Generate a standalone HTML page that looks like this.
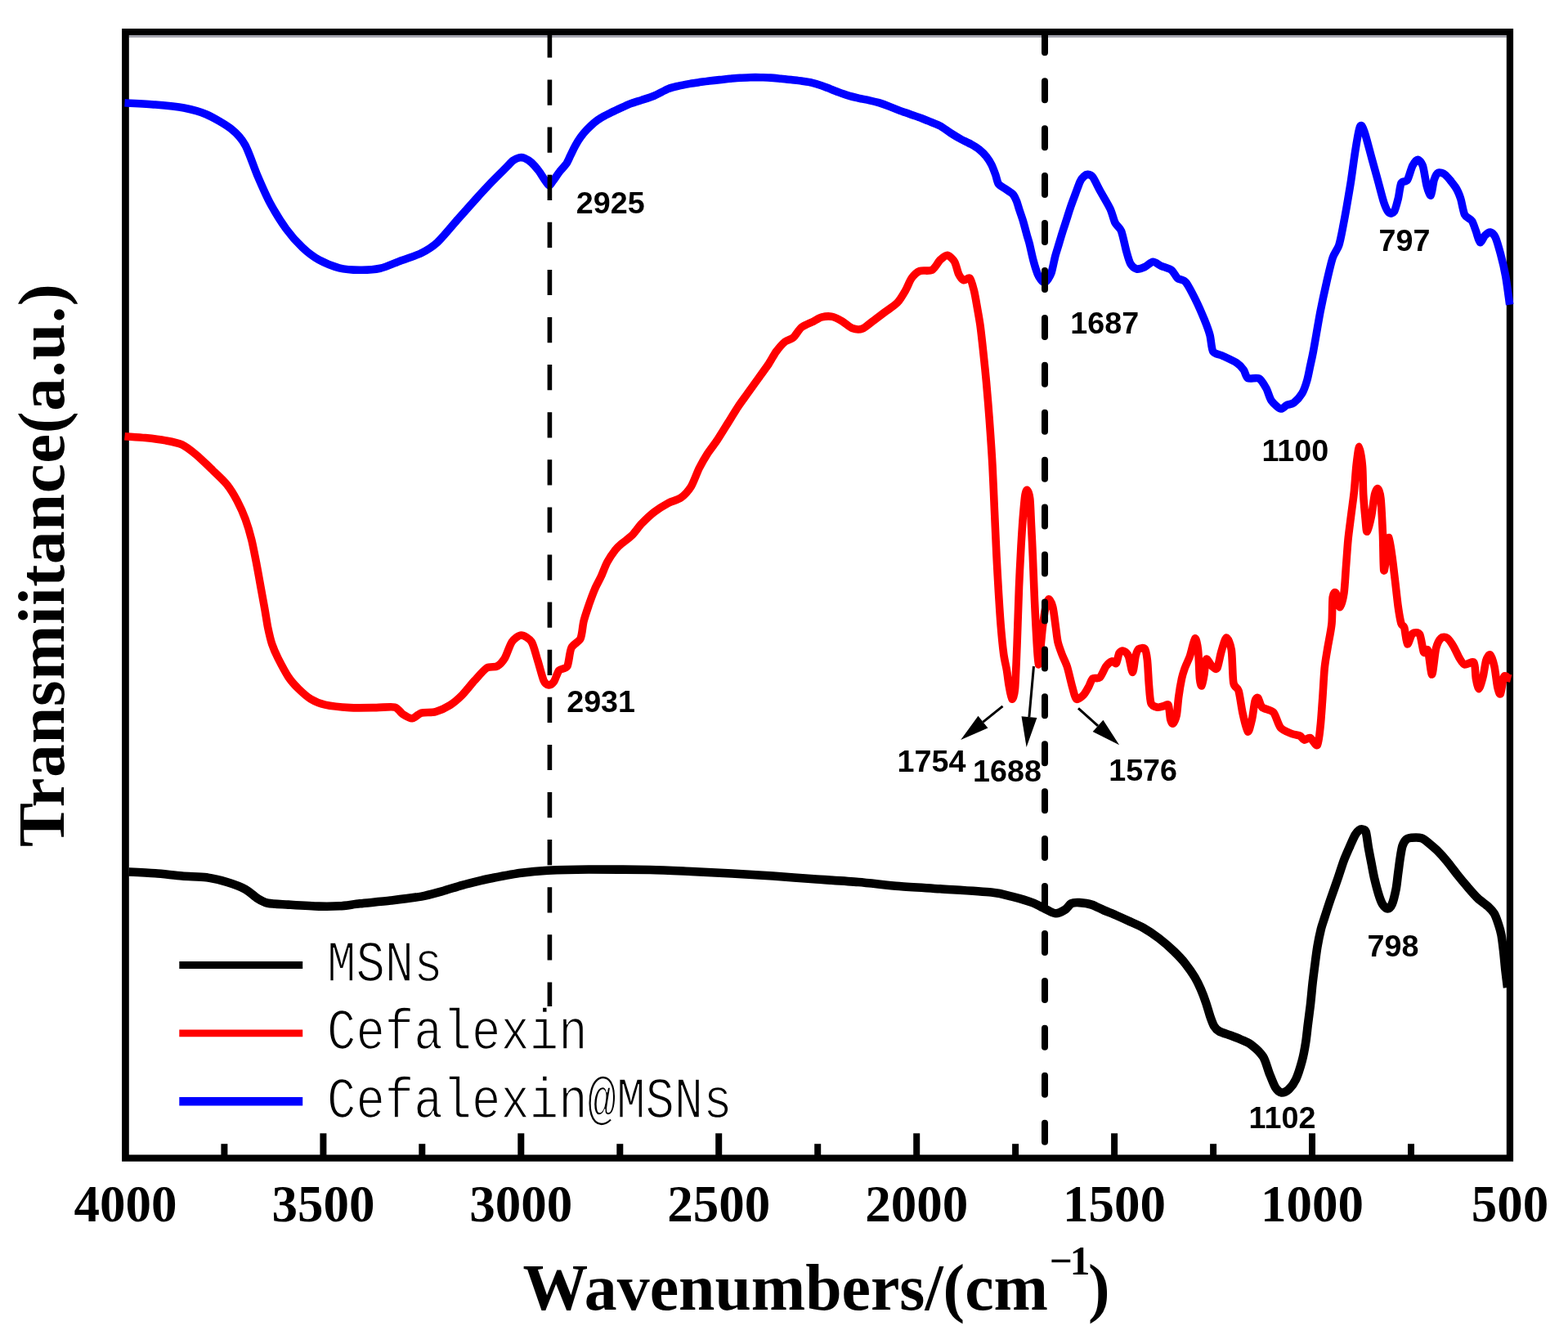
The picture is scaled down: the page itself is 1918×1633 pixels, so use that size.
<!DOCTYPE html>
<html lang="en">
<head>
<meta charset="utf-8">
<title>FTIR spectra</title>
<style>
html,body{margin:0;padding:0;background:#fff;}
body{width:1918px;height:1633px;overflow:hidden;}
svg{display:block;}
.tick{font-family:"Liberation Serif",serif;font-weight:bold;font-size:63px;text-anchor:middle;fill:#000;}
.title{font-family:"Liberation Serif",serif;font-weight:bold;font-size:81px;fill:#000;}
.sup{font-family:"Liberation Serif",serif;font-weight:bold;font-size:50px;fill:#000;}
.ann{font-family:"Liberation Sans",sans-serif;font-weight:bold;font-size:37.7px;fill:#000;}
.leg{font-family:"Liberation Mono",monospace;fill:#000;stroke:#fff;stroke-width:1.3px;}
.curve{fill:none;stroke-linejoin:round;stroke-linecap:butt;}
</style>
</head>
<body>
<svg width="1918" height="1633" viewBox="0 0 1918 1633" role="img" aria-label="FTIR spectra of MSNs, Cefalexin and Cefalexin@MSNs">
<rect x="0" y="0" width="1918" height="1633" fill="#ffffff"/>

<path class="curve" stroke="#000000" stroke-width="10.6" d="M157.5,1066.5C161.8,1066.7 181.3,1067.6 190.0,1068.3C198.7,1069.0 214.3,1070.8 222.6,1071.5C230.9,1072.2 245.3,1072.3 252.6,1073.3C259.9,1074.3 271.3,1077.1 277.6,1079.0C283.9,1080.9 295.2,1085.1 300.2,1087.8C305.2,1090.5 311.5,1096.8 315.2,1099.1C318.9,1101.4 322.7,1103.8 327.7,1104.8C332.7,1105.8 344.4,1106.1 352.7,1106.6C361.0,1107.1 381.9,1108.4 390.2,1108.6C398.5,1108.8 408.6,1108.7 415.3,1108.3C422.0,1107.9 432.0,1106.2 440.3,1105.3C448.6,1104.4 467.8,1102.8 477.8,1101.6C487.8,1100.4 507.1,1098.1 515.4,1096.6C523.7,1095.1 533.7,1092.1 540.4,1090.3C547.1,1088.5 558.7,1084.6 565.4,1082.8C572.1,1081.0 585.6,1077.7 590.5,1076.5C595.4,1075.3 596.2,1075.2 602.5,1074.0C608.8,1072.8 628.6,1069.0 637.6,1067.8C646.6,1066.6 659.1,1065.4 670.1,1064.8C681.1,1064.2 703.5,1063.6 720.2,1063.5C736.9,1063.4 778.5,1063.7 795.2,1064.0C811.9,1064.3 832.0,1065.4 845.3,1066.0C858.6,1066.6 882.0,1067.8 895.3,1068.5C908.6,1069.2 932.1,1070.6 945.4,1071.5C958.7,1072.4 981.5,1074.3 995.4,1075.3C1009.3,1076.3 1036.1,1077.8 1050.0,1079.0C1063.9,1080.2 1086.7,1082.9 1100.0,1084.0C1113.3,1085.1 1135.0,1086.3 1150.0,1087.3C1165.0,1088.3 1201.0,1090.4 1212.7,1091.6C1224.4,1092.8 1231.0,1094.9 1237.7,1096.6C1244.4,1098.3 1257.1,1101.9 1262.8,1104.1C1268.5,1106.3 1276.5,1111.0 1280.3,1112.8C1284.1,1114.6 1288.5,1117.3 1291.5,1117.3C1294.5,1117.3 1300.3,1114.4 1302.8,1112.8C1305.3,1111.2 1308.0,1106.5 1310.3,1105.3C1312.6,1104.1 1317.0,1103.9 1320.3,1104.1C1323.6,1104.3 1331.3,1105.3 1335.3,1106.6C1339.3,1107.9 1346.4,1111.8 1350.4,1113.5C1354.4,1115.2 1361.1,1117.8 1365.0,1119.5C1368.9,1121.2 1375.5,1124.2 1380.0,1126.3C1384.5,1128.4 1393.8,1132.3 1398.8,1135.1C1403.8,1137.9 1412.5,1143.8 1417.5,1147.6C1422.5,1151.4 1432.0,1159.7 1436.3,1163.9C1440.6,1168.1 1446.8,1174.7 1450.1,1178.9C1453.4,1183.1 1458.9,1190.9 1461.4,1195.1C1463.9,1199.3 1467.1,1206.0 1468.9,1210.2C1470.7,1214.4 1473.6,1222.1 1475.1,1226.4C1476.6,1230.7 1478.8,1238.9 1480.1,1242.7C1481.4,1246.5 1483.6,1252.7 1485.1,1255.2C1486.6,1257.7 1488.7,1260.0 1491.4,1261.5C1494.1,1263.0 1501.7,1265.2 1505.2,1266.5C1508.7,1267.8 1514.4,1270.0 1517.7,1271.5C1521.0,1273.0 1526.5,1274.9 1530.2,1277.7C1533.9,1280.5 1542.1,1288.0 1545.1,1292.7C1548.1,1297.4 1550.6,1307.7 1552.6,1312.7C1554.6,1317.7 1558.1,1327.0 1560.1,1330.2C1562.1,1333.4 1565.4,1336.2 1567.6,1336.5C1569.8,1336.8 1574.1,1334.9 1576.4,1332.7C1578.7,1330.5 1583.0,1324.9 1585.2,1320.2C1587.4,1315.5 1591.1,1303.7 1592.7,1297.7C1594.3,1291.7 1596.3,1280.7 1597.2,1275.0C1598.1,1269.3 1598.9,1261.2 1599.6,1255.2C1600.3,1249.2 1602.0,1236.9 1602.8,1230.2C1603.6,1223.5 1604.6,1211.9 1605.3,1205.2C1606.0,1198.5 1607.6,1186.4 1608.4,1180.1C1609.2,1173.8 1610.5,1163.4 1611.5,1157.6C1612.5,1151.8 1614.8,1140.9 1615.9,1136.3C1617.0,1131.7 1618.5,1128.0 1620.0,1123.2C1621.5,1118.4 1625.3,1106.5 1627.5,1100.1C1629.7,1093.7 1634.1,1081.4 1636.3,1075.1C1638.5,1068.8 1641.8,1057.9 1643.8,1052.6C1645.8,1047.3 1649.5,1039.1 1651.3,1035.0C1653.1,1030.9 1656.0,1024.1 1657.5,1021.5C1659.0,1018.9 1661.4,1016.5 1662.6,1015.6C1663.8,1014.7 1665.5,1014.2 1666.6,1014.5C1667.7,1014.8 1669.7,1014.6 1670.7,1017.5C1671.7,1020.4 1672.9,1031.1 1673.8,1036.3C1674.7,1041.5 1676.6,1051.1 1677.6,1056.3C1678.6,1061.5 1680.1,1070.1 1681.3,1075.1C1682.5,1080.1 1685.0,1089.7 1686.3,1093.9C1687.6,1098.1 1689.8,1104.1 1691.3,1106.4C1692.8,1108.7 1695.8,1111.4 1697.3,1111.4C1698.8,1111.4 1701.2,1109.6 1702.6,1106.4C1704.0,1103.2 1706.6,1092.6 1707.6,1087.6C1708.6,1082.6 1709.4,1073.8 1710.1,1068.8C1710.8,1063.8 1711.9,1054.6 1712.6,1050.1C1713.3,1045.6 1714.4,1038.1 1715.4,1035.0C1716.4,1031.9 1718.6,1028.3 1720.1,1026.9C1721.6,1025.5 1723.9,1025.0 1726.4,1024.8C1728.9,1024.6 1736.1,1024.4 1738.9,1025.3C1741.7,1026.2 1745.2,1029.3 1747.7,1031.3C1750.2,1033.3 1754.7,1037.1 1757.7,1040.1C1760.7,1043.1 1766.9,1049.8 1770.2,1053.8C1773.5,1057.8 1779.4,1065.9 1782.7,1070.1C1786.0,1074.3 1791.9,1081.3 1795.2,1085.1C1798.5,1088.9 1804.4,1095.7 1807.7,1098.9C1811.0,1102.1 1817.6,1106.4 1820.3,1108.9C1823.0,1111.4 1826.1,1114.8 1827.8,1117.6C1829.5,1120.4 1831.6,1126.7 1832.8,1130.2C1834.0,1133.7 1835.7,1139.6 1836.5,1143.9C1837.3,1148.2 1838.3,1156.9 1839.0,1162.7C1839.7,1168.5 1840.8,1181.7 1841.5,1187.7C1842.2,1193.7 1843.7,1205.3 1844.0,1208.0"/>
<rect x="157.8" y="43" width="1685" height="2.9" fill="#a2a2ac"/>
<path fill="#000" fill-rule="evenodd" d="M149.1,35H1851.1V1420.8H149.1ZM157.8,43V1412.5H1842.8V43Z"/>
<g stroke="#000" stroke-width="8">
<line x1="395.4" y1="1386.3" x2="395.4" y2="1416.65"/>
<line x1="637.3" y1="1386.3" x2="637.3" y2="1416.65"/>
<line x1="879.2" y1="1386.3" x2="879.2" y2="1416.65"/>
<line x1="1121.2" y1="1386.3" x2="1121.2" y2="1416.65"/>
<line x1="1363.1" y1="1386.3" x2="1363.1" y2="1416.65"/>
<line x1="1605.0" y1="1386.3" x2="1605.0" y2="1416.65"/>
<line x1="274.4" y1="1399.2" x2="274.4" y2="1416.65"/>
<line x1="516.3" y1="1399.2" x2="516.3" y2="1416.65"/>
<line x1="758.3" y1="1399.2" x2="758.3" y2="1416.65"/>
<line x1="1000.2" y1="1399.2" x2="1000.2" y2="1416.65"/>
<line x1="1242.1" y1="1399.2" x2="1242.1" y2="1416.65"/>
<line x1="1484.1" y1="1399.2" x2="1484.1" y2="1416.65"/>
<line x1="1726.0" y1="1399.2" x2="1726.0" y2="1416.65"/>
</g>
<path class="curve" stroke="#ff0000" stroke-width="9.6" d="M152.5,533.7C155.8,534.0 170.8,534.9 177.5,535.6C184.2,536.3 196.6,537.8 202.6,538.9C208.6,540.0 217.6,541.6 222.6,543.9C227.6,546.2 235.1,552.2 240.1,556.4C245.1,560.6 255.1,570.3 260.1,575.1C265.1,579.9 273.6,587.7 277.6,592.7C281.6,597.7 287.2,607.0 290.2,612.7C293.2,618.4 297.9,628.9 300.2,635.2C302.5,641.5 305.9,652.9 307.7,660.2C309.5,667.5 312.4,682.6 313.9,690.3C315.4,698.0 317.6,710.5 318.9,717.8C320.2,725.1 322.7,738.6 323.9,745.3C325.1,752.0 326.5,762.1 327.7,767.8C328.9,773.5 331.0,782.9 332.7,787.9C334.4,792.9 337.5,800.1 340.2,805.4C342.9,810.7 349.4,823.0 352.7,828.0C356.0,833.0 361.5,839.0 365.2,842.6C368.9,846.2 375.9,852.5 380.2,855.1C384.5,857.7 391.5,860.7 397.8,862.1C404.1,863.5 419.5,865.1 427.8,865.6C436.1,866.1 453.0,865.7 460.3,865.6C467.6,865.5 478.5,864.0 482.8,865.1C487.1,866.2 490.1,872.0 492.9,873.8C495.7,875.6 501.1,879.0 504.1,878.8C507.1,878.6 511.6,873.2 515.4,872.1C519.2,871.0 528.2,871.9 532.9,870.6C537.6,869.3 546.1,865.3 550.4,862.6C554.7,859.9 561.4,854.1 565.4,850.1C569.4,846.1 576.4,837.0 580.4,832.6C584.4,828.2 591.8,819.3 595.5,817.0C599.2,814.7 605.1,816.6 608.0,815.0C610.9,813.4 615.1,809.0 617.5,805.0C619.9,801.0 623.6,788.7 626.3,785.0C629.0,781.3 634.4,777.0 637.6,777.0C640.8,777.0 647.4,780.9 650.1,785.0C652.8,789.1 655.6,801.2 657.6,807.5C659.6,813.8 663.3,828.5 665.1,832.6C666.9,836.7 669.7,837.8 671.4,838.0C673.1,838.2 675.9,836.2 677.6,833.8C679.3,831.4 681.7,822.5 683.9,820.0C686.1,817.5 691.9,818.7 693.9,815.0C695.9,811.3 696.7,797.0 698.9,792.5C701.1,788.0 708.1,785.3 710.1,781.0C712.1,776.7 712.6,765.7 713.9,760.3C715.2,754.9 718.4,745.6 720.2,740.3C722.0,735.0 725.7,725.0 727.7,720.3C729.7,715.6 733.2,709.6 735.2,705.3C737.2,701.0 740.4,692.1 742.7,687.8C745.0,683.5 750.4,675.7 752.7,672.7C755.0,669.7 757.5,667.5 760.2,665.2C762.9,662.9 769.4,658.5 772.7,655.2C776.0,651.9 781.5,644.0 785.2,640.2C788.9,636.4 795.9,629.7 800.2,626.4C804.5,623.1 813.4,617.5 817.7,615.2C822.0,612.9 829.1,611.6 832.8,608.9C836.5,606.2 842.3,600.0 845.3,595.2C848.3,590.4 852.6,577.9 855.3,572.6C858.0,567.3 862.3,559.8 865.3,555.1C868.3,550.4 874.5,542.6 877.8,537.6C881.1,532.6 887.0,522.9 890.3,517.6C893.6,512.3 899.5,502.6 902.8,497.6C906.1,492.6 912.0,484.8 915.3,480.1C918.6,475.4 924.6,467.2 927.9,462.5C931.2,457.8 937.5,449.3 940.4,445.0C943.3,440.7 946.8,433.6 949.5,430.0C952.2,426.4 957.6,420.2 960.4,417.9C963.2,415.6 967.7,415.2 970.4,412.9C973.1,410.6 977.1,403.1 980.4,400.4C983.7,397.7 992.1,394.6 995.4,392.9C998.7,391.2 1002.4,388.6 1005.4,387.9C1008.4,387.2 1014.7,386.7 1018.0,387.4C1021.3,388.1 1026.7,391.0 1030.0,392.9C1033.3,394.8 1039.2,400.4 1042.5,401.6C1045.8,402.8 1051.7,403.3 1055.0,402.1C1058.3,400.9 1063.9,395.6 1067.6,392.9C1071.3,390.2 1078.6,384.6 1082.6,381.6C1086.6,378.6 1094.3,373.8 1097.6,370.3C1100.9,366.8 1105.3,359.3 1107.6,355.3C1109.9,351.3 1112.8,343.5 1115.1,340.3C1117.4,337.1 1121.8,332.8 1125.1,331.5C1128.4,330.2 1136.8,332.1 1140.1,330.3C1143.4,328.5 1147.7,320.2 1150.2,317.8C1152.7,315.4 1156.6,312.0 1158.9,312.3C1161.2,312.6 1165.9,317.2 1167.7,320.3C1169.5,323.4 1171.2,332.3 1172.7,335.3C1174.2,338.3 1177.1,342.1 1178.9,342.8C1180.7,343.5 1184.7,338.6 1186.4,340.3C1188.1,342.0 1190.2,350.6 1191.4,355.3C1192.6,360.0 1194.2,369.6 1195.2,375.3C1196.2,381.0 1198.0,390.6 1199.0,397.9C1200.0,405.2 1201.7,420.7 1202.7,430.0C1203.7,439.3 1205.5,456.5 1206.5,467.5C1207.5,478.5 1209.2,498.9 1210.2,512.6C1211.2,526.3 1213.2,555.1 1214.0,570.1C1214.8,585.1 1215.8,610.5 1216.5,625.2C1217.2,639.9 1218.3,667.0 1219.0,680.3C1219.7,693.6 1220.8,714.3 1221.5,725.3C1222.2,736.3 1223.2,752.8 1224.0,762.8C1224.8,772.8 1226.7,792.4 1227.7,800.0C1228.7,807.6 1230.7,815.0 1231.5,820.0C1232.3,825.0 1233.2,832.9 1234.0,837.6C1234.8,842.3 1236.7,854.4 1237.7,855.1C1238.7,855.8 1240.7,851.3 1241.5,842.6C1242.3,833.9 1243.3,806.6 1244.0,790.0C1244.7,773.4 1245.8,734.1 1246.5,717.8C1247.2,701.5 1248.3,679.4 1249.0,667.7C1249.7,656.0 1250.8,638.5 1251.5,630.2C1252.2,621.9 1253.3,609.3 1254.0,605.2C1254.7,601.1 1255.7,599.0 1256.5,599.7C1257.3,600.4 1259.1,604.5 1259.8,610.2C1260.5,615.9 1261.0,633.4 1261.5,642.7C1262.0,652.0 1262.9,670.3 1263.3,680.3C1263.7,690.3 1264.4,707.8 1264.8,717.8C1265.2,727.8 1266.0,746.0 1266.5,755.3C1267.0,764.6 1267.8,780.2 1268.3,787.9C1268.8,795.6 1269.7,812.2 1270.3,812.9C1270.9,813.6 1272.1,798.9 1272.8,792.9C1273.5,786.9 1274.5,774.5 1275.3,767.8C1276.1,761.1 1278.0,747.5 1279.0,742.8C1280.0,738.1 1281.6,732.8 1282.8,732.8C1284.0,732.8 1286.6,738.1 1287.8,742.8C1289.0,747.5 1290.7,762.1 1291.5,767.8C1292.3,773.5 1293.0,781.1 1294.0,785.4C1295.0,789.7 1297.5,796.4 1299.0,800.4C1300.5,804.4 1303.6,810.1 1305.3,815.4C1307.0,820.7 1310.1,834.8 1311.6,840.1C1313.1,845.4 1314.8,853.8 1316.6,855.1C1318.4,856.4 1323.3,852.1 1325.3,850.1C1327.3,848.1 1330.1,842.8 1331.6,840.1C1333.1,837.4 1334.8,831.5 1336.6,830.0C1338.4,828.5 1343.1,830.8 1345.3,828.8C1347.5,826.8 1350.9,817.7 1352.9,815.0C1354.9,812.3 1358.7,809.3 1360.4,808.8C1362.1,808.3 1364.2,812.6 1365.4,811.3C1366.6,810.0 1367.9,800.8 1369.1,798.8C1370.3,796.8 1372.6,795.8 1374.1,796.3C1375.6,796.8 1378.9,799.0 1380.4,802.5C1381.9,806.0 1384.2,822.5 1385.4,822.5C1386.6,822.5 1388.1,806.3 1389.1,802.5C1390.1,798.7 1391.4,795.0 1392.9,793.8C1394.4,792.6 1399.0,792.0 1400.4,793.8C1401.8,795.6 1402.7,801.7 1403.4,807.5C1404.1,813.3 1404.8,830.6 1405.4,837.6C1406.0,844.6 1406.6,856.4 1407.9,860.1C1409.2,863.8 1413.4,864.6 1415.4,865.1C1417.4,865.6 1421.1,864.1 1422.9,863.8C1424.7,863.5 1428.0,860.4 1429.2,862.6C1430.4,864.8 1430.9,877.1 1431.7,880.1C1432.5,883.1 1433.9,885.8 1434.9,885.1C1435.9,884.4 1438.3,879.4 1439.2,875.1C1440.1,870.8 1440.9,858.6 1441.7,852.6C1442.5,846.6 1444.5,834.7 1445.5,830.0C1446.5,825.3 1447.9,821.2 1449.2,817.5C1450.5,813.8 1453.8,807.4 1455.5,802.5C1457.2,797.6 1460.4,782.0 1461.7,781.0C1463.0,780.0 1464.7,788.5 1465.5,795.0C1466.3,801.5 1466.9,824.2 1467.5,830.0C1468.1,835.8 1469.3,839.5 1470.0,838.8C1470.7,838.1 1472.3,829.3 1473.0,825.0C1473.7,820.7 1474.2,807.6 1475.5,806.3C1476.8,805.0 1480.8,813.5 1482.6,815.0C1484.4,816.5 1487.3,819.8 1488.8,817.5C1490.3,815.2 1492.3,802.5 1493.8,797.5C1495.3,792.5 1498.4,780.3 1500.1,780.0C1501.8,779.7 1505.1,787.7 1506.3,795.0C1507.5,802.3 1507.6,828.4 1508.8,835.1C1510.0,841.8 1513.6,840.1 1515.1,845.1C1516.6,850.1 1518.6,865.9 1520.1,872.6C1521.6,879.3 1524.8,894.1 1526.3,895.1C1527.8,896.1 1530.2,885.1 1531.4,880.1C1532.6,875.1 1534.1,861.1 1535.1,857.6C1536.1,854.1 1537.7,852.8 1538.9,853.8C1540.1,854.8 1541.4,862.8 1543.9,865.1C1546.4,867.4 1554.6,868.0 1557.6,871.3C1560.6,874.6 1563.4,886.6 1566.4,890.1C1569.4,893.6 1577.0,896.3 1580.2,897.6C1583.4,898.9 1588.2,899.1 1590.2,900.1C1592.2,901.1 1593.5,904.8 1595.2,905.1C1596.9,905.4 1600.5,901.8 1602.7,902.6C1604.9,903.4 1609.7,913.4 1611.4,911.4C1613.1,909.4 1614.4,895.1 1615.2,887.6C1616.0,880.1 1617.0,864.4 1617.7,855.1C1618.4,845.8 1619.4,825.8 1620.2,817.5C1621.0,809.2 1622.7,800.2 1623.9,792.9C1625.1,785.6 1628.2,771.1 1629.0,762.8C1629.8,754.5 1629.5,735.3 1630.2,730.3C1630.9,725.3 1632.8,723.6 1634.0,725.3C1635.2,727.0 1637.7,742.8 1639.0,742.8C1640.3,742.8 1643.0,732.0 1644.0,725.3C1645.0,718.6 1645.8,701.5 1646.5,692.8C1647.2,684.1 1648.2,668.5 1649.0,660.2C1649.8,651.9 1651.7,638.2 1652.7,630.2C1653.7,622.2 1655.7,608.2 1656.5,600.2C1657.3,592.2 1658.2,577.3 1659.0,570.1C1659.8,562.9 1661.7,546.4 1662.7,546.4C1663.7,546.4 1665.8,562.3 1666.5,570.1C1667.2,577.9 1667.2,596.5 1667.7,605.2C1668.2,613.9 1669.6,629.2 1670.2,635.2C1670.8,641.2 1671.2,650.9 1672.2,650.2C1673.2,649.5 1676.5,636.2 1677.7,630.2C1678.9,624.2 1680.5,609.5 1681.5,605.2C1682.5,600.9 1684.3,597.0 1685.3,597.7C1686.3,598.4 1688.2,602.5 1689.0,610.2C1689.8,617.9 1691.0,643.5 1691.5,655.2C1692.0,666.9 1692.1,695.1 1692.8,697.8C1693.5,700.5 1695.7,680.5 1696.5,675.2C1697.3,669.9 1698.2,657.0 1699.0,657.7C1699.8,658.4 1701.8,673.3 1702.8,680.3C1703.8,687.3 1705.5,702.0 1706.5,710.3C1707.5,718.6 1709.3,735.8 1710.3,742.8C1711.3,749.8 1713.0,759.5 1714.0,762.8C1715.0,766.1 1716.8,764.5 1717.8,767.8C1718.8,771.1 1720.2,786.9 1721.5,787.9C1722.8,788.9 1725.8,776.6 1727.8,775.0C1729.8,773.4 1734.8,772.9 1736.6,776.0C1738.4,779.1 1740.3,795.3 1741.6,797.9C1742.9,800.5 1745.3,791.8 1746.6,795.4C1747.9,799.0 1750.3,825.3 1751.6,825.0C1752.9,824.7 1755.1,798.8 1756.6,792.9C1758.1,787.0 1761.0,782.1 1762.8,780.4C1764.6,778.7 1768.3,779.1 1770.3,780.4C1772.3,781.7 1775.8,787.1 1777.8,790.4C1779.8,793.7 1783.6,802.4 1785.4,805.4C1787.2,808.4 1789.3,812.2 1791.6,812.9C1793.9,813.6 1801.1,808.1 1802.9,810.4C1804.7,812.7 1804.6,825.7 1805.4,830.0C1806.2,834.3 1807.9,842.9 1809.1,842.6C1810.3,842.3 1812.9,832.2 1814.1,827.5C1815.3,822.8 1816.7,811.0 1817.9,807.5C1819.1,804.0 1821.6,800.0 1822.9,801.0C1824.2,802.0 1826.7,809.8 1827.9,815.0C1829.1,820.2 1830.7,835.6 1831.7,840.1C1832.7,844.6 1834.4,850.3 1835.4,848.8C1836.4,847.3 1838.3,831.9 1839.2,829.0C1840.1,826.1 1841.2,826.9 1842.0,827.0C1842.8,827.1 1844.2,829.1 1845.0,829.5C1845.8,829.9 1847.8,829.9 1848.2,830.0"/>
<path class="curve" stroke="#0000ff" stroke-width="9.6" d="M152.5,125.8C157.5,126.1 180.3,127.2 190.0,128.0C199.7,128.8 216.7,130.4 225.0,132.0C233.3,133.6 244.9,136.6 252.6,140.0C260.3,143.4 276.3,152.6 282.6,157.6C288.9,162.6 295.7,169.9 300.0,177.6C304.3,185.3 311.0,205.7 315.0,215.0C319.0,224.3 325.3,239.0 330.0,247.7C334.7,256.4 344.7,272.7 350.0,280.0C355.3,287.3 364.7,297.8 370.0,302.8C375.3,307.8 384.0,314.5 390.0,317.8C396.0,321.1 408.3,326.1 415.0,327.8C421.7,329.5 433.3,330.2 440.0,330.3C446.7,330.4 458.3,329.8 465.0,328.3C471.7,326.8 483.3,321.5 490.0,319.0C496.7,316.5 509.0,312.8 515.0,309.8C521.0,306.8 529.0,302.0 535.0,296.5C541.0,291.0 555.0,273.9 560.0,268.3C565.0,262.7 569.2,257.9 572.5,254.2C575.8,250.5 581.7,243.9 585.0,240.2C588.3,236.5 594.2,230.2 597.5,226.7C600.8,223.2 607.1,216.9 610.1,213.9C613.1,210.9 617.8,206.2 620.1,203.9C622.4,201.6 625.6,197.9 627.6,196.4C629.6,194.9 633.3,193.3 635.1,192.9C636.9,192.5 639.4,192.6 641.4,193.4C643.4,194.2 647.8,196.8 650.1,198.9C652.4,201.0 656.7,206.1 658.9,208.9C661.1,211.7 664.7,217.8 666.4,220.2C668.1,222.6 670.5,226.8 671.8,227.0C673.1,227.2 674.6,223.8 676.4,221.4C678.2,219.0 683.0,211.9 685.2,209.1C687.4,206.3 691.0,202.9 692.7,200.4C694.4,197.9 696.2,193.4 697.7,190.4C699.2,187.4 702.2,180.9 703.9,177.9C705.6,174.9 708.4,170.3 710.2,167.8C712.0,165.3 715.5,161.1 717.7,158.8C719.9,156.5 724.2,152.3 726.5,150.3C728.8,148.3 732.4,145.8 735.2,144.1C738.0,142.4 744.4,139.3 747.7,137.6C751.0,135.9 757.0,133.1 760.3,131.6C763.6,130.1 769.5,127.5 772.8,126.3C776.1,125.1 781.7,123.5 785.3,122.3C788.9,121.1 795.7,119.0 800.0,117.2C804.3,115.4 813.5,110.2 817.5,108.6C821.5,107.0 826.8,105.9 830.1,105.1C833.4,104.3 839.3,103.2 842.6,102.6C845.9,102.0 851.8,101.2 855.1,100.7C858.4,100.2 864.3,99.3 867.6,98.9C870.9,98.5 876.8,97.9 880.1,97.6C883.4,97.3 889.3,96.6 892.6,96.3C895.9,96.0 901.9,95.4 905.2,95.2C908.5,95.0 914.4,94.8 917.7,94.7C921.0,94.6 926.9,94.6 930.2,94.7C933.5,94.8 939.4,94.9 942.7,95.1C946.0,95.3 951.9,95.9 955.2,96.2C958.5,96.5 964.4,97.2 967.7,97.6C971.0,98.0 977.0,98.6 980.3,99.1C983.6,99.6 989.5,100.3 992.8,101.1C996.1,101.9 1002.4,103.9 1005.0,104.8C1007.6,105.7 1009.8,106.6 1012.5,107.6C1015.2,108.6 1021.7,111.4 1025.0,112.6C1028.3,113.8 1034.2,115.9 1037.5,116.9C1040.8,117.9 1046.8,119.3 1050.1,120.1C1053.4,120.9 1059.3,121.9 1062.6,122.6C1065.9,123.3 1071.8,124.7 1075.1,125.7C1078.4,126.7 1084.3,128.8 1087.6,130.1C1090.9,131.4 1096.8,133.8 1100.1,135.1C1103.4,136.4 1109.3,138.3 1112.6,139.5C1115.9,140.7 1121.9,142.6 1125.2,143.9C1128.5,145.2 1134.4,147.5 1137.7,148.9C1141.0,150.3 1146.9,152.3 1150.2,154.1C1153.5,155.9 1159.4,160.5 1162.7,162.6C1166.0,164.7 1171.9,168.3 1175.2,170.1C1178.5,171.9 1184.7,174.7 1187.7,176.4C1190.7,178.1 1195.2,180.7 1197.7,182.7C1200.2,184.7 1204.5,188.9 1206.5,191.4C1208.5,193.9 1211.3,198.4 1212.8,201.4C1214.3,204.4 1216.6,210.7 1217.8,213.9C1219.0,217.1 1219.8,222.9 1221.5,225.2C1223.2,227.5 1228.3,229.9 1230.2,231.2C1232.1,232.5 1234.7,234.2 1236.0,235.2C1237.3,236.2 1238.8,237.2 1239.8,238.6C1240.8,240.0 1242.5,243.5 1243.5,246.0C1244.5,248.5 1245.9,253.8 1247.0,257.1C1248.1,260.4 1250.4,266.7 1251.6,270.8C1252.8,274.9 1255.2,284.0 1256.2,287.7C1257.2,291.4 1258.3,294.3 1259.3,298.4C1260.3,302.5 1262.6,313.4 1263.9,318.3C1265.2,323.2 1267.9,331.9 1269.2,335.1C1270.5,338.3 1272.4,341.1 1273.5,342.5C1274.6,343.9 1276.6,345.4 1277.7,345.3C1278.8,345.2 1280.9,343.1 1282.0,341.5C1283.1,339.9 1284.9,337.3 1286.1,333.6C1287.3,329.9 1289.5,318.4 1290.7,313.7C1291.9,309.0 1294.1,302.5 1295.3,298.4C1296.5,294.3 1298.6,287.2 1299.9,283.1C1301.2,279.0 1303.6,271.9 1304.9,267.8C1306.2,263.7 1308.4,256.6 1309.8,252.5C1311.2,248.4 1314.0,241.1 1315.5,237.0C1317.0,232.9 1319.9,224.7 1321.3,221.8C1322.7,218.9 1324.8,216.7 1326.0,215.6C1327.2,214.5 1329.1,213.3 1330.5,213.4C1331.9,213.5 1334.6,213.8 1336.6,216.4C1338.6,219.0 1342.5,227.5 1345.3,232.7C1348.1,237.9 1355.4,249.9 1357.9,255.2C1360.4,260.5 1362.3,269.0 1364.1,272.7C1365.9,276.4 1369.8,278.0 1371.6,282.7C1373.4,287.4 1376.4,302.5 1377.9,307.8C1379.4,313.1 1381.2,320.0 1382.9,322.8C1384.6,325.6 1388.1,328.5 1390.4,329.0C1392.7,329.5 1397.7,327.7 1400.4,326.5C1403.1,325.3 1407.7,320.5 1410.4,320.3C1413.1,320.1 1417.4,324.0 1420.4,325.3C1423.4,326.6 1430.2,328.3 1432.9,330.3C1435.6,332.3 1438.1,338.3 1440.4,340.3C1442.7,342.3 1447.5,341.6 1450.5,345.3C1453.5,349.0 1460.0,361.8 1463.0,367.8C1466.0,373.8 1470.7,384.8 1473.0,390.4C1475.3,396.0 1478.6,404.7 1480.0,410.0C1481.4,415.3 1481.8,426.7 1483.8,430.0C1485.8,433.3 1491.2,433.2 1495.0,435.0C1498.8,436.8 1509.1,441.5 1512.6,443.8C1516.1,446.1 1519.5,450.0 1521.3,452.5C1523.1,455.0 1523.8,461.1 1526.3,462.5C1528.8,463.9 1537.1,461.3 1540.1,463.0C1543.1,464.7 1546.9,471.4 1548.9,475.0C1550.9,478.6 1552.8,486.7 1555.1,490.0C1557.4,493.3 1563.9,499.3 1566.4,500.0C1568.9,500.7 1571.7,496.6 1573.9,495.6C1576.1,494.6 1580.2,494.5 1582.7,492.6C1585.2,490.7 1590.5,485.0 1592.7,481.3C1594.9,477.6 1597.6,469.5 1598.9,465.0C1600.2,460.5 1601.7,452.2 1602.7,447.5C1603.7,442.8 1604.7,438.9 1606.4,430.0C1608.1,421.1 1613.0,391.7 1615.2,380.4C1617.4,369.1 1620.7,354.0 1622.7,345.3C1624.7,336.6 1628.2,321.3 1630.2,315.3C1632.2,309.3 1636.0,305.3 1637.7,300.3C1639.4,295.3 1641.4,284.4 1642.7,277.7C1644.0,271.0 1646.4,257.9 1647.7,250.2C1649.0,242.5 1651.4,228.9 1652.7,220.2C1654.0,211.5 1656.4,193.5 1657.7,185.2C1659.0,176.9 1661.6,161.8 1662.7,157.6C1663.8,153.4 1664.7,152.9 1665.7,153.9C1666.7,154.9 1668.6,159.9 1670.2,165.1C1671.8,170.3 1675.7,185.4 1677.7,192.7C1679.7,200.0 1683.3,212.9 1685.3,220.2C1687.3,227.5 1691.0,242.4 1692.8,247.7C1694.6,253.0 1697.3,258.7 1699.0,260.2C1700.7,261.7 1703.8,261.3 1705.3,259.0C1706.8,256.7 1709.1,247.4 1710.3,242.7C1711.5,238.0 1712.5,227.0 1714.0,224.0C1715.5,221.0 1719.7,223.0 1721.5,220.2C1723.3,217.4 1726.1,206.0 1727.8,202.7C1729.5,199.4 1732.4,195.2 1734.1,195.2C1735.8,195.2 1738.8,198.4 1740.3,202.7C1741.8,207.0 1744.0,222.9 1745.3,227.7C1746.6,232.5 1749.1,240.0 1750.3,239.0C1751.5,238.0 1752.9,223.9 1754.1,220.2C1755.3,216.5 1757.3,212.2 1759.1,211.4C1760.9,210.6 1765.1,211.6 1767.9,213.9C1770.7,216.2 1777.9,225.2 1780.4,229.0C1782.9,232.8 1785.1,238.2 1786.6,242.7C1788.1,247.2 1789.8,259.0 1791.6,262.7C1793.4,266.4 1798.6,267.5 1800.4,270.2C1802.2,272.9 1804.1,279.2 1805.4,282.7C1806.7,286.2 1808.9,295.8 1810.4,296.5C1811.9,297.2 1814.9,289.5 1816.6,287.8C1818.3,286.1 1821.2,283.7 1822.9,284.0C1824.6,284.3 1827.5,286.8 1829.2,290.3C1830.9,293.8 1833.7,304.0 1835.4,310.3C1837.1,316.6 1840.2,329.5 1841.7,337.8C1843.2,346.1 1846.0,368.1 1846.7,372.8"/>
<g stroke="#000" fill="none">
<line x1="672.4" y1="39.4" x2="672.4" y2="1231" stroke-width="5.6" stroke-dasharray="31.2 26.9"/>
<line x1="1278" y1="41.3" x2="1278" y2="1412" stroke-width="8" stroke-dasharray="23 34.93" stroke-linecap="round"/>
</g>
<text class="tick" x="153.4" y="1494">4000</text>
<text class="tick" x="395.4" y="1494">3500</text>
<text class="tick" x="637.3" y="1494">3000</text>
<text class="tick" x="879.2" y="1494">2500</text>
<text class="tick" x="1121.2" y="1494">2000</text>
<text class="tick" x="1363.1" y="1494">1500</text>
<text class="tick" x="1605.0" y="1494">1000</text>
<text class="tick" x="1847.0" y="1494">500</text>
<g transform="translate(639.5,1601.5) scale(0.985,1)"><text class="title" x="0" y="0">Wavenumbers/(cm<tspan class="sup" x="654" dy="-42.5" letter-spacing="-3">−1</tspan><tspan x="702" dy="42.5">)</tspan></text></g>
<text class="title" letter-spacing="0.6" transform="translate(78,1036) rotate(-90)">Transmiitance(a.u.)</text>
<g stroke-linecap="butt" fill="none">
<line x1="219.3" y1="1180.6" x2="370.2" y2="1180.6" stroke="#000" stroke-width="9"/>
<line x1="219.3" y1="1263.8" x2="370.2" y2="1263.8" stroke="#ff0000" stroke-width="8.8"/>
<line x1="219.3" y1="1347.3" x2="370.2" y2="1347.3" stroke="#0000ff" stroke-width="10.4"/>
</g>
<g transform="translate(400,1200) scale(1,1.18)"><text class="leg" font-size="59.00" x="0" y="0">MSNs</text></g>
<g transform="translate(400,1283) scale(1,1.18)"><text class="leg" font-size="59.00" x="0" y="0">Cefalexin</text></g>
<g transform="translate(400,1366.5) scale(1,1.18)"><text class="leg" font-size="59.00" x="0" y="0">Cefalexin@MSNs</text></g>
<text class="ann" x="704.8" y="260.7">2925</text>
<text class="ann" x="1309.3" y="408">1687</text>
<text class="ann" x="1686.6" y="306.5">797</text>
<text class="ann" x="1543.4" y="564">1100</text>
<text class="ann" x="693.2" y="870.6">2931</text>
<text class="ann" x="1097.6" y="944">1754</text>
<text class="ann" x="1190" y="956.4">1688</text>
<text class="ann" x="1356.2" y="955.2">1576</text>
<text class="ann" x="1672.6" y="1170">798</text>
<text class="ann" x="1527.6" y="1379.8">1102</text>
<line x1="1226.5" y1="863.8" x2="1202.5" y2="883.2" stroke="#000" stroke-width="3"/><polygon points="1175.2,905.1 1196.5,875.8 1208.4,890.6" fill="#000"/>
<line x1="1264.5" y1="815.0" x2="1258.9" y2="877.1" stroke="#000" stroke-width="3"/><polygon points="1255.6,914.0 1249.5,876.3 1268.4,878.0" fill="#000"/>
<line x1="1319.0" y1="866.3" x2="1343.0" y2="887.8" stroke="#000" stroke-width="3"/><polygon points="1369.1,911.2 1336.7,894.9 1349.4,880.8" fill="#000"/>
</svg>
</body>
</html>
